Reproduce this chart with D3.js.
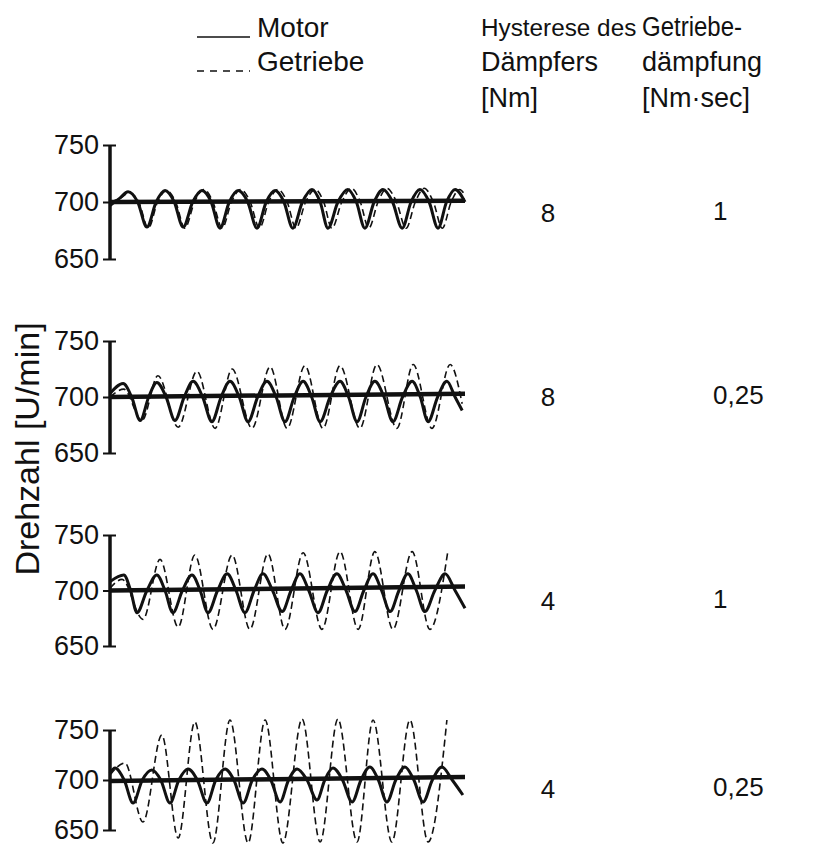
<!DOCTYPE html>
<html>
<head>
<meta charset="utf-8">
<script src="https://cdn.jsdelivr.net/npm/d3@7"></script>
<style>
  html, body { margin: 0; padding: 0; background: #fff; }
  svg { display: block; }
  text { font-family: "Liberation Sans", Arial, Helvetica, sans-serif; fill: #111; }
</style>
</head>
<body>
<svg id="chart" width="815" height="851"></svg>
<script>
// ---------- DATA ----------
const yTicks = [650, 700, 750];
const seriesNames = ["Motor", "Getriebe"];
const headerHysterese = ["Hysterese des", "Dämpfers", "[Nm]"];
const headerDaempfung = ["Getriebe-", "dämpfung", "[Nm·sec]"];
const yTitle = "Drehzahl [U/min]";
const hystereseValues = ["8", "8", "4", "4"];
const daempfungValues = ["1", "0,25", "1", "0,25"];
const timeDomain = [0, 100];

// [time, rpm]
const motor1 = [[0,697],[2.6,703],[5.1,709],[7.8,700],[10.4,678],[13.0,700],[15.5,710],[18.1,700],[20.6,678],[23.3,700],[25.9,710],[28.5,700],[31.0,677],[33.6,700],[36.1,710],[38.8,700],[41.4,677],[44.0,700],[46.5,710],[49.0,700],[51.5,677],[54.2,700],[56.9,711],[59.2,700],[61.4,677],[64.2,700],[67.0,711],[69.4,700],[71.8,677],[74.4,700],[76.9,711],[79.6,700],[82.3,677],[84.8,700],[87.3,711],[89.9,700],[92.4,677],[94.8,700],[97.2,711],[100,700]];
const getriebe1 = [[0,700],[2.7,703],[5.4,708],[8.1,700],[10.8,677],[13.4,700],[15.9,710],[18.5,700],[21.1,677],[23.8,700],[26.5,711],[29.0,700],[31.6,677],[34.2,700],[36.8,711],[39.5,700],[42.1,677],[44.7,700],[47.3,711],[49.9,700],[52.4,677],[55.1,700],[57.8,711],[60.2,700],[62.5,677],[65.3,700],[68.0,712],[70.5,700],[72.9,677],[75.5,700],[78.0,712],[80.7,700],[83.4,677],[86.0,700],[88.5,712],[91.1,700],[93.6,677],[96.1,700],[98.5,711],[100,706]];
const motor2 = [[0,703],[3.7,712],[6.1,700],[8.5,679],[10.9,700],[13.2,713],[15.8,700],[18.3,679],[20.9,700],[23.4,714],[26.1,700],[28.7,678],[31.3,700],[33.8,714],[36.4,700],[38.9,678],[41.6,700],[44.2,714],[46.8,700],[49.3,678],[51.9,700],[54.4,714],[56.8,700],[59.2,678],[62.0,700],[64.8,714],[67.2,700],[69.6,678],[72.1,700],[74.6,714],[77.2,700],[79.7,678],[82.4,700],[85.1,714],[87.4,700],[89.6,678],[92.3,700],[94.9,714],[97.2,700],[99.2,688]];
const getriebe2 = [[0,700],[3.9,707],[9.0,679],[13.5,719],[19.2,673],[24.5,723],[29.6,672],[34.4,725],[40.0,672],[45.1,727],[49.9,672],[54.9,728],[60.0,672],[64.8,728],[70.4,672],[75.2,729],[80.8,672],[85.4,729],[90.7,672],[95.8,729],[99.2,694]];
const motor3 = [[0,708],[3.9,714],[5.8,700],[7.6,680],[10.4,700],[13.2,714],[15.5,700],[17.7,680],[20.4,700],[23.1,714],[25.4,700],[27.6,680],[30.3,700],[33.0,715],[35.5,700],[38.0,680],[40.6,700],[43.1,715],[45.8,700],[48.5,681],[51.0,700],[53.5,715],[56.0,700],[58.6,680],[61.2,700],[63.9,715],[66.5,700],[69.0,681],[71.5,700],[74.1,715],[76.5,700],[78.9,681],[81.4,700],[83.9,715],[86.3,700],[88.7,681],[91.5,700],[94.4,715],[97.2,700],[100,684]];
const getriebe3 = [[0,702],[3.4,710],[9.3,674],[14.1,728],[19.2,667],[23.9,732],[29.0,665],[34.4,732],[39.4,665],[44.5,733],[49.3,665],[54.4,734],[59.7,665],[64.8,735],[69.9,665],[74.6,735],[79.7,665],[85.1,735],[90.1,665],[95.2,736]];
const motor4 = [[0,707],[1.4,712],[4.0,700],[6.5,677],[9.1,700],[11.8,710],[14.3,700],[16.9,677],[19.4,700],[22.0,711],[24.6,700],[27.3,677],[29.8,700],[32.4,711],[34.9,700],[37.5,677],[40.1,700],[42.8,711],[45.3,700],[47.9,678],[50.3,700],[52.7,711],[55.5,700],[58.3,680],[60.5,700],[62.8,712],[65.5,700],[68.2,678],[70.7,700],[73.2,713],[75.6,700],[78.0,678],[80.5,700],[83.1,713],[85.6,700],[88.2,678],[90.8,700],[93.5,713],[96.4,700],[99.4,685]];
const getriebe4 = [[0,705],[4.2,717],[9.3,658],[14.6,745],[19.2,642],[23.9,758],[29.0,637],[33.8,760],[38.9,637],[43.7,760],[48.7,637],[54.1,761],[59.2,638],[64.2,761],[69.6,638],[74.1,760],[79.4,638],[84.5,760],[89.6,638],[94.9,760]];
// mean speed line per panel [start, end]
const mean1 = [[0,700],[100,701]];
const mean2 = [[0,700],[100,703]];
const mean3 = [[0,700],[100,703.5]];
const mean4 = [[0,699],[100,703]];

const motorSeries = [motor1, motor2, motor3, motor4];
const getriebeSeries = [getriebe1, getriebe2, getriebe3, getriebe4];
const meanSeries = [mean1, mean2, mean3, mean4];

// ---------- LAYOUT ----------
const axisX = 110, plotRight = 465;
const panels = [
  {top: 145, bottom: 259, labelDy: 11},
  {top: 341, bottom: 453, labelDy: 0},
  {top: 535, bottom: 646, labelDy: 10},
  {top: 730, bottom: 830, labelDy: 9}
];
const col1X = 548, col2X = 713;

const svg = d3.select("#chart");
svg.append("rect").attr("width", 815).attr("height", 851).attr("fill", "#fff");

const x = d3.scaleLinear().domain(timeDomain).range([axisX, plotRight]);

panels.forEach((p, i) => {
  const y = d3.scaleLinear().domain([650, 750]).range([p.bottom, p.top]);
  const g = svg.append("g");

  // axis
  const ax = g.append("g").attr("transform", `translate(${axisX},0)`)
    .call(d3.axisLeft(y).tickValues(yTicks).tickSize(7).tickSizeOuter(0).tickPadding(4));
  ax.select(".domain").remove();
  ax.selectAll(".tick line").attr("stroke", "#111").attr("stroke-width", 2)
    .attr("x1", d => (d === 700 ? 0 : 6));
  ax.selectAll(".tick text").attr("font-size", 27)
    .attr("font-family", "Liberation Sans, Arial, sans-serif").attr("fill", "#111");
  g.append("line").attr("x1", axisX).attr("x2", axisX)
    .attr("y1", y(750)).attr("y2", y(650)).attr("stroke", "#111").attr("stroke-width", 3.5);

  const line = d3.line().x(d => x(d[0])).y(d => y(d[1])).curve(d3.curveMonotoneX);

  // mean line
  g.append("path").datum(meanSeries[i]).attr("d", d3.line().x(d => x(d[0])).y(d => y(d[1])))
    .attr("fill", "none").attr("stroke", "#111").attr("stroke-width", 4.5);

  // Getriebe (dashed)
  g.append("path").datum(getriebeSeries[i]).attr("d", line)
    .attr("fill", "none").attr("stroke", "#111").attr("stroke-width", 1.6)
    .attr("stroke-dasharray", "7,4");

  // Motor (solid)
  g.append("path").datum(motorSeries[i]).attr("d", line)
    .attr("fill", "none").attr("stroke", "#111").attr("stroke-width", 3);

  // parameter values
  g.append("text").attr("x", col1X).attr("y", y(700) + p.labelDy)
    .attr("text-anchor", "middle").attr("dominant-baseline", "central")
    .attr("font-size", 26).text(hystereseValues[i]);
  g.append("text").attr("x", col2X).attr("y", y(700) + p.labelDy - 2)
    .attr("text-anchor", "start").attr("dominant-baseline", "central")
    .attr("font-size", 26).text(daempfungValues[i]);
});

// legend
const leg = svg.append("g");
leg.append("line").attr("x1", 197).attr("x2", 250).attr("y1", 37).attr("y2", 37)
  .attr("stroke", "#111").attr("stroke-width", 1.6);
leg.append("line").attr("x1", 197).attr("x2", 250).attr("y1", 71).attr("y2", 71)
  .attr("stroke", "#111").attr("stroke-width", 1.4).attr("stroke-dasharray", "7,6");
leg.append("text").attr("x", 257).attr("y", 37).attr("font-size", 28).text(seriesNames[0]);
leg.append("text").attr("x", 257).attr("y", 71).attr("font-size", 28).text(seriesNames[1]);

// column headers
const headerYs = [36, 71, 107];
headerHysterese.forEach((t, k) => {
  svg.append("text").attr("x", 481).attr("y", headerYs[k])
    .attr("font-size", k === 0 ? 24.3 : 27).text(t);
});
headerDaempfung.forEach((t, k) => {
  const el = svg.append("text").attr("x", 642).attr("y", headerYs[k]).attr("font-size", 27).text(t);
  if (k === 0) el.attr("textLength", 100).attr("lengthAdjust", "spacingAndGlyphs");
});

// y-axis title
svg.append("text").attr("transform", "translate(39,449) rotate(-90)")
  .attr("text-anchor", "middle").attr("font-size", 34).text(yTitle);
</script>
</body>
</html>
